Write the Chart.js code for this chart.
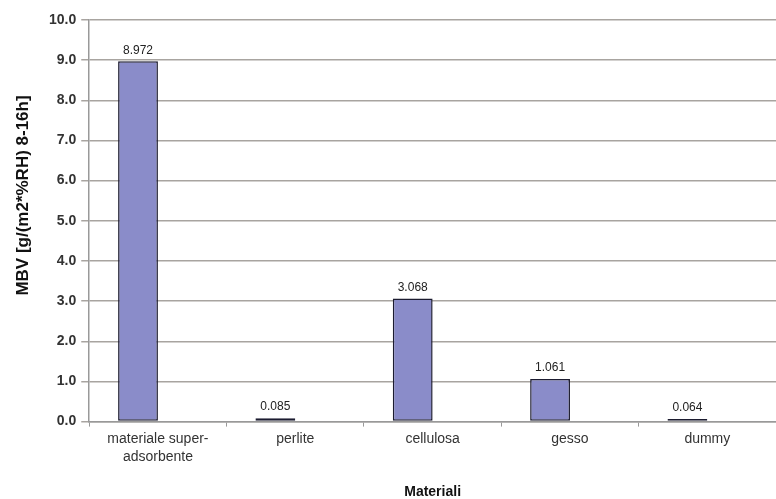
<!DOCTYPE html>
<html>
<head>
<meta charset="utf-8">
<script src="https://cdn.jsdelivr.net/npm/chart.js@4/dist/chart.umd.min.js"></script>
<style>
html,body{margin:0;padding:0;background:#fff;}
#wrap{width:776px;height:499px;position:relative;}
</style>
</head>
<body>
<div id="wrap"><canvas id="c" width="776" height="499"></canvas></div>
<script>
const categories = [["materiale super-","adsorbente"], "perlite", "cellulosa", "gesso", "dummy"];
const mbvValues = [8.972, 0.085, 3.068, 1.061, 0.064];
const emptySeries = [null, null, null, null, null];
const yTitle = "MBV [g/(m2*%RH) 8-16h]";
const xTitle = "Materiali";
const FONT = '"Liberation Sans", Arial, sans-serif';

const valueLabels = {
  id: 'valueLabels',
  afterDatasetsDraw(chart) {
    const ctx = chart.ctx;
    const meta = chart.getDatasetMeta(0);
    ctx.save();
    ctx.font = '12px ' + FONT;
    ctx.fillStyle = '#222';
    ctx.textAlign = 'center';
    ctx.textBaseline = 'middle';
    meta.data.forEach((bar, i) => {
      ctx.fillText(mbvValues[i].toFixed(3), bar.x, bar.y - 11);
    });
    ctx.restore();
  }
};

const yAxisTitle = {
  id: 'yAxisTitle',
  afterDraw(chart) {
    const ctx = chart.ctx;
    const area = chart.chartArea;
    ctx.save();
    ctx.translate(23, area.top + (area.bottom - area.top) * 0.437);
    ctx.rotate(-Math.PI / 2);
    ctx.font = 'bold 17px ' + FONT;
    ctx.fillStyle = '#111';
    ctx.textAlign = 'center';
    ctx.textBaseline = 'middle';
    ctx.fillText(yTitle, 0, 0);
    ctx.restore();
  }
};

new Chart(document.getElementById('c'), {
  type: 'bar',
  data: {
    labels: categories,
    datasets: [
      { data: mbvValues, backgroundColor: '#8a8cc9', borderColor: '#1c1c30', borderWidth: 1.5, borderSkipped: false },
      { data: emptySeries, backgroundColor: 'transparent' }
    ]
  },
  options: {
    responsive: false,
    animation: false,
    devicePixelRatio: 1,
    layout: { padding: { top: 20, right: 0, left: 44, bottom: 0 } },
    plugins: { legend: { display: false }, tooltip: { enabled: false } },
    datasets: { bar: { categoryPercentage: 0.58, barPercentage: 1.0 } },
    scales: {
      x: {
        grid: { display: true, drawOnChartArea: false, offset: true, tickLength: 5, color: '#999' },
        border: { color: '#999', width: 1.5 },
        ticks: { color: '#333', font: { family: FONT, size: 14, lineHeight: 1.3 }, padding: 3, maxRotation: 0, autoSkip: false },
        title: { display: true, text: xTitle, color: '#111', font: { family: FONT, size: 14, weight: 'bold', lineHeight: 1.0 }, padding: { top: 16, bottom: 0 } }
      },
      y: {
        min: 0, max: 10,
        ticks: { stepSize: 1, color: '#333', font: { family: FONT, size: 14, weight: 'bold' }, padding: 5, callback: v => v.toFixed(1) },
        grid: { color: '#a8a4a0', lineWidth: 1.5, tickLength: 8 },
        border: { color: '#999', width: 1.5 }
      }
    }
  },
  plugins: [valueLabels, yAxisTitle]
});
</script>
</body>
</html>
